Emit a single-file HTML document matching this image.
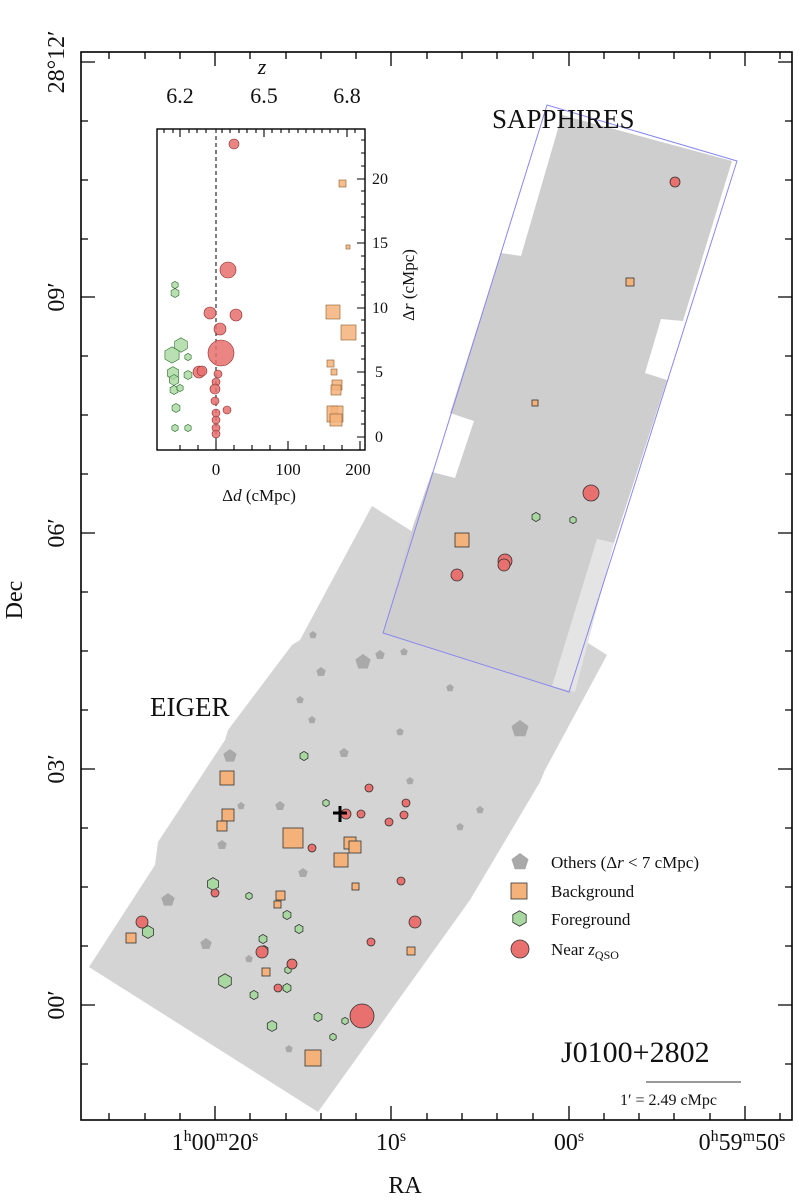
<!DOCTYPE html>
<html><head><meta charset="utf-8"><style>
body{margin:0;background:#fff}
svg{display:block}
text{font-family:"Liberation Serif",serif;fill:#111}
</style></head><body>
<svg width="799" height="1200" viewBox="0 0 799 1200" xmlns="http://www.w3.org/2000/svg">
<defs>
<symbol id="hx" viewBox="-1.1 -1.1 2.2 2.2"><polygon points="0,-1 0.866,-0.5 0.866,0.5 0,1 -0.866,0.5 -0.866,-0.5" vector-effect="non-scaling-stroke"/></symbol>
<symbol id="pt" viewBox="-1 -1 2 2"><polygon points="0,-1 0.95,-0.31 0.59,0.81 -0.59,0.81 -0.95,-0.31"/></symbol>
</defs>
<!-- EIGER -->
<polygon points="89,967 155,865 158,842 225,740 228,730 292,645 300,640 372,506 607,655 545,770 540,782 470,900 318,1112" fill="#d4d4d4"/>
<!-- SAPPHIRES -->
<polygon points="562,115 732,161 683,321 661,319 645,373 667,380 614,543 597,539 570,692 383,633 413,526 432,472 455,478 474,421 450,413 501,253 521,256" fill="#cecece"/>
<polygon points="597,539 614,543 575,692 552,686" fill="#e4e4e4"/>
<polygon points="383,633 547,105 737,161 569,692" fill="none" stroke="#8888ee" stroke-width="1"/>
<!-- others -->
<g fill="#a9a9a9">
<use href="#pt" x="355" y="654" width="16" height="16"/><use href="#pt" x="375" y="650" width="10" height="10"/>
<use href="#pt" x="309" y="631" width="8" height="8"/><use href="#pt" x="316" y="667" width="10" height="10"/>
<use href="#pt" x="296" y="696" width="8" height="8"/><use href="#pt" x="400" y="648" width="8" height="8"/>
<use href="#pt" x="446" y="684" width="8" height="8"/><use href="#pt" x="511" y="720" width="18" height="18"/>
<use href="#pt" x="339" y="748" width="10" height="10"/><use href="#pt" x="308" y="716" width="8" height="8"/>
<use href="#pt" x="223" y="749" width="14" height="14"/><use href="#pt" x="275" y="801" width="10" height="10"/>
<use href="#pt" x="161" y="893" width="14" height="14"/><use href="#pt" x="200" y="938" width="12" height="12"/>
<use href="#pt" x="298" y="868" width="10" height="10"/><use href="#pt" x="456" y="823" width="8" height="8"/>
<use href="#pt" x="406" y="777" width="8" height="8"/><use href="#pt" x="476" y="806" width="8" height="8"/>
<use href="#pt" x="396" y="728" width="8" height="8"/><use href="#pt" x="217" y="840" width="10" height="10"/>
<use href="#pt" x="237" y="802" width="8" height="8"/>
<use href="#pt" x="285" y="1045" width="8" height="8"/><use href="#pt" x="245" y="955" width="8" height="8"/>
</g>
<!-- background squares -->
<g fill="#f4b27a" stroke="#333" stroke-width="0.8">
<rect x="626" y="278" width="8" height="8"/><rect x="532" y="400" width="6" height="6"/>
<rect x="455" y="533" width="14" height="14"/><rect x="220" y="771" width="14" height="14"/>
<rect x="222" y="809" width="12" height="12"/><rect x="217" y="821" width="10" height="10"/>
<rect x="283" y="828" width="20" height="20"/><rect x="344" y="837" width="12" height="12"/>
<rect x="349" y="841" width="12" height="12"/><rect x="334" y="853" width="14" height="14"/>
<rect x="352" y="883" width="7" height="7"/><rect x="276" y="891" width="9" height="9"/>
<rect x="274" y="901" width="7" height="7"/><rect x="262" y="968" width="8" height="8"/>
<rect x="126" y="933" width="10" height="10"/><rect x="407" y="947" width="8" height="8"/>
<rect x="305" y="1050" width="16" height="16"/>
</g>
<!-- foreground -->
<g fill="#a8d8a0" stroke="#333" stroke-width="0.8">
<use href="#hx" x="531" y="512" width="10" height="10"/><use href="#hx" x="569" y="516" width="8" height="8"/>
<use href="#hx" x="299" y="751" width="10" height="10"/><use href="#hx" x="322" y="799" width="8" height="8"/>
<use href="#hx" x="206" y="877" width="14" height="14"/><use href="#hx" x="245" y="892" width="8" height="8"/>
<use href="#hx" x="282" y="910" width="10" height="10"/><use href="#hx" x="294" y="924" width="10" height="10"/>
<use href="#hx" x="258" y="934" width="10" height="10"/><use href="#hx" x="141" y="925" width="14" height="14"/>
<use href="#hx" x="217" y="973" width="16" height="16"/><use href="#hx" x="249" y="990" width="10" height="10"/>
<use href="#hx" x="282" y="983" width="10" height="10"/><use href="#hx" x="266" y="1020" width="12" height="12"/>
<use href="#hx" x="313" y="1012" width="10" height="10"/><use href="#hx" x="341" y="1017" width="8" height="8"/>
<use href="#hx" x="329" y="1033" width="8" height="8"/><use href="#hx" x="259" y="945" width="10" height="10"/>
<use href="#hx" x="284" y="966" width="8" height="8"/>
</g>
<!-- near zQSO -->
<g fill="#e8706e" stroke="#333" stroke-width="0.8">
<circle cx="675" cy="182" r="5"/><circle cx="591" cy="493" r="8"/><circle cx="505" cy="561" r="7"/>
<circle cx="504" cy="565" r="6"/><circle cx="457" cy="575" r="6"/><circle cx="362" cy="1016" r="12"/>
<circle cx="346" cy="814" r="5"/><circle cx="361" cy="814" r="4"/><circle cx="369" cy="788" r="4"/>
<circle cx="406" cy="803" r="4"/><circle cx="404" cy="815" r="4"/><circle cx="389" cy="822" r="4"/>
<circle cx="312" cy="848" r="4"/><circle cx="401" cy="881" r="4"/><circle cx="415" cy="922" r="6"/>
<circle cx="371" cy="942" r="4"/><circle cx="142" cy="922" r="6"/><circle cx="215" cy="893" r="4"/>
<circle cx="262" cy="952" r="6"/><circle cx="292" cy="964" r="5"/><circle cx="278" cy="988" r="4"/>
</g>
<path d="M333,813 h14 M340,806 v16" stroke="#000" stroke-width="3"/>
<!-- main frame -->
<rect x="81" y="52" width="711" height="1068" fill="none" stroke="#000" stroke-width="1.6"/>
<g stroke="#000" stroke-width="1.3">
<path d="M81,62h14M81,297h14M81,533h14M81,769h14M81,1005h14M792,62h-14M792,297h-14M792,533h-14M792,769h-14M792,1005h-14"/>
<path d="M81,121h7M81,180h7M81,239h7M81,356h7M81,415h7M81,474h7M81,592h7M81,651h7M81,710h7M81,828h7M81,887h7M81,946h7M81,1064h7M792,121h-7M792,180h-7M792,239h-7M792,356h-7M792,415h-7M792,474h-7M792,592h-7M792,651h-7M792,710h-7M792,828h-7M792,887h-7M792,946h-7M792,1064h-7"/>
<path d="M215,1120v-14M391,1120v-14M569,1120v-14M745,1120v-14M215,52v14M391,52v14M569,52v14M745,52v14"/>
<path d="M109,1120v-7M145,1120v-7M180,1120v-7M250,1120v-7M286,1120v-7M321,1120v-7M356,1120v-7M427,1120v-7M462,1120v-7M497,1120v-7M533,1120v-7M604,1120v-7M639,1120v-7M674,1120v-7M710,1120v-7M780,1120v-7M109,52v7M145,52v7M180,52v7M250,52v7M286,52v7M321,52v7M356,52v7M427,52v7M462,52v7M497,52v7M533,52v7M604,52v7M639,52v7M674,52v7M710,52v7M780,52v7"/>
</g>
<g font-size="24">
<text transform="translate(64,62) rotate(-90)" text-anchor="middle">28°12′</text>
<text transform="translate(64,297) rotate(-90)" text-anchor="middle">09′</text>
<text transform="translate(64,533) rotate(-90)" text-anchor="middle">06′</text>
<text transform="translate(64,769) rotate(-90)" text-anchor="middle">03′</text>
<text transform="translate(64,1005) rotate(-90)" text-anchor="middle">00′</text>
<text transform="translate(22,600) rotate(-90)" text-anchor="middle">Dec</text>
<text x="215" y="1150" text-anchor="middle">1<tspan font-size="16" dy="-9">h</tspan><tspan dy="9">00</tspan><tspan font-size="16" dy="-9">m</tspan><tspan dy="9">20</tspan><tspan font-size="16" dy="-9">s</tspan></text>
<text x="391" y="1150" text-anchor="middle">10<tspan font-size="16" dy="-9">s</tspan></text>
<text x="569" y="1150" text-anchor="middle">00<tspan font-size="16" dy="-9">s</tspan></text>
<text x="742" y="1150" text-anchor="middle">0<tspan font-size="16" dy="-9">h</tspan><tspan dy="9">59</tspan><tspan font-size="16" dy="-9">m</tspan><tspan dy="9">50</tspan><tspan font-size="16" dy="-9">s</tspan></text>
<text x="405" y="1193" text-anchor="middle">RA</text>
<text x="492" y="128" font-size="27">SAPPHIRES</text>
<text x="150" y="716" font-size="27">EIGER</text>
<text x="561" y="1062" font-size="30">J0100+2802</text>
</g>
<line x1="646" y1="1082" x2="741" y2="1082" stroke="#333" stroke-width="1"/>
<text x="620" y="1105" font-size="16">1′ = 2.49 cMpc</text>
<!-- legend -->
<use href="#pt" x="511" y="853" width="18" height="18" fill="#a9a9a9"/>
<rect x="511" y="883" width="16" height="16" fill="#f4b27a" stroke="#333" stroke-width="0.8"/>
<use href="#hx" x="511" y="910" width="17" height="17" fill="#a8d8a0" stroke="#333" stroke-width="0.8"/>
<circle cx="520" cy="949" r="9" fill="#e8706e" stroke="#333" stroke-width="0.8"/>
<g font-size="17">
<text x="551" y="868">Others (Δ<tspan font-style="italic">r</tspan> &lt; 7 cMpc)</text>
<text x="551" y="897">Background</text>
<text x="551" y="925">Foreground</text>
<text x="551" y="955">Near <tspan font-style="italic">z</tspan><tspan font-size="12" dy="4">QSO</tspan></text>
</g>
<!-- inset -->
<rect x="157" y="129" width="208" height="321" fill="#fff" stroke="#000" stroke-width="1.4"/>
<line x1="216" y1="129" x2="216" y2="450" stroke="#000" stroke-dasharray="4,3" stroke-width="1"/>
<g stroke="#000" stroke-width="1.1">
<path d="M216,450v-9M288,450v-9M360,450v-9M180,450v-5M198,450v-5M234,450v-5M252,450v-5M270,450v-5M306,450v-5M324,450v-5M342,450v-5"/>
<path d="M180,129v8M264,129v8M347,129v8M164,129v4M173,129v4M189,129v4M197,129v4M206,129v4M222,129v4M230,129v4M239,129v4M247,129v4M256,129v4M272,129v4M281,129v4M289,129v4M298,129v4M306,129v4M314,129v4M322,129v4M330,129v4M338,129v4M355,129v4"/>
<path d="M365,437h-8M365,372h-8M365,308h-8M365,243h-8M365,179h-8"/>
<path d="M365,424h-4M365,411h-4M365,398h-4M365,385h-4M365,359h-4M365,346h-4M365,333h-4M365,320h-4M365,295h-4M365,282h-4M365,269h-4M365,256h-4M365,230h-4M365,217h-4M365,204h-4M365,191h-4M365,166h-4M365,153h-4M365,140h-4"/>
</g>
<g font-size="17" text-anchor="middle">
<text x="216" y="475">0</text><text x="288" y="475">100</text><text x="358" y="475">200</text>
<text x="259" y="501" font-size="17">Δ<tspan font-style="italic">d</tspan> (cMpc)</text>
</g>
<g font-size="16">
<text x="375" y="442">0</text><text x="375" y="377">5</text><text x="372" y="313">10</text><text x="372" y="248">15</text><text x="372" y="184">20</text>
<text transform="translate(414,285) rotate(-90)" text-anchor="middle" font-size="17">Δ<tspan font-style="italic">r</tspan> (cMpc)</text>
</g>
<g font-size="22" text-anchor="middle">
<text x="180" y="103">6.2</text><text x="264" y="103">6.5</text><text x="347" y="103">6.8</text>
<text x="262" y="74" font-style="italic">z</text>
</g>
<g fill="#a8d8a0" stroke="#2a6a2a" stroke-width="0.6" fill-opacity="0.8">
<use href="#hx" x="171" y="281" width="8" height="8"/><use href="#hx" x="170" y="288" width="10" height="10"/>
<use href="#hx" x="173" y="337" width="16" height="16"/><use href="#hx" x="163" y="346" width="18" height="18"/>
<use href="#hx" x="166" y="366" width="14" height="14"/><use href="#hx" x="183" y="370" width="10" height="10"/>
<use href="#hx" x="169" y="385" width="10" height="10"/><use href="#hx" x="176" y="384" width="8" height="8"/>
<use href="#hx" x="171" y="403" width="10" height="10"/><use href="#hx" x="171" y="424" width="8" height="8"/>
<use href="#hx" x="184" y="424" width="8" height="8"/><use href="#hx" x="184" y="353" width="8" height="8"/>
<use href="#hx" x="168" y="374" width="12" height="12"/>
</g>
<g fill="#e8706e" stroke="#8a2a2a" stroke-width="0.6" fill-opacity="0.85">
<circle cx="234" cy="144" r="5"/><circle cx="228" cy="270" r="8"/><circle cx="210" cy="313" r="6"/>
<circle cx="236" cy="315" r="6"/><circle cx="220" cy="329" r="6"/><circle cx="221" cy="353" r="13"/>
<circle cx="199" cy="372" r="6"/><circle cx="202" cy="371" r="5"/><circle cx="218" cy="374" r="4"/>
<circle cx="216" cy="382" r="4"/><circle cx="215" cy="389" r="5"/><circle cx="215" cy="401" r="4"/>
<circle cx="227" cy="410" r="4"/><circle cx="216" cy="413" r="4"/><circle cx="216" cy="420" r="4"/>
<circle cx="216" cy="428" r="4"/><circle cx="216" cy="434" r="4"/>
</g>
<g fill="#f4b27a" stroke="#8a5a2a" stroke-width="0.6" fill-opacity="0.85">
<rect x="339" y="180" width="7" height="7"/><rect x="346" y="245" width="4" height="4"/>
<rect x="326" y="305" width="14" height="14"/><rect x="341" y="325" width="15" height="15"/>
<rect x="327" y="360" width="7" height="7"/><rect x="331" y="369" width="6" height="6"/>
<rect x="332" y="380" width="10" height="10"/><rect x="331" y="385" width="10" height="10"/>
<rect x="331" y="406" width="7" height="7"/><rect x="327" y="406" width="16" height="16"/>
<rect x="330" y="414" width="12" height="12"/>
</g>
</svg>
</body></html>
